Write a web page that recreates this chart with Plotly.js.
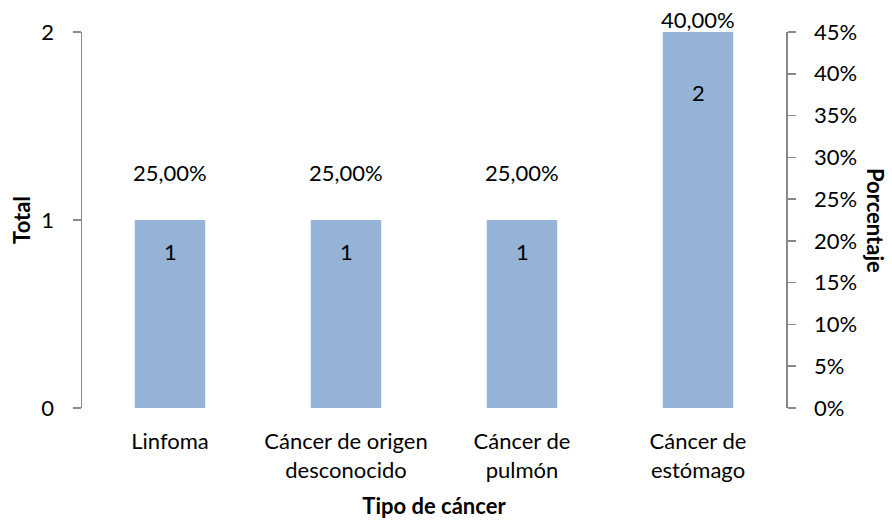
<!DOCTYPE html>
<html>
<head>
<meta charset="utf-8">
<script src="https://cdn.plot.ly/plotly-3.0.1.min.js"></script>
<style>
  html, body { margin: 0; padding: 0; background: #fff; }
  #chart { width: 892px; height: 522px; }
</style>
</head>
<body>
<div id="chart"></div>
<script>
// Casos por tipo de cáncer: total y porcentaje
const categories = ['Linfoma', 'Cáncer de origen<br>desconocido', 'Cáncer de<br>pulmón', 'Cáncer de<br>estómago'];
const totals = [1, 1, 1, 2];
const percentages = [25, 25, 25, 40];

const FONT = 'Lato, Calibri, "Open Sans", sans-serif';
const AXIS_GRAY = '#898989';
const FS = 22;
const FS_TITLE = 22;

// Label offsets (px) relative to the value they annotate
const countShift = [-31, -31, -31, -60];
const pctShift = [27, 27, 27, 54];

const fmtPct = v => v.toFixed(2).replace('.', ',') + '%';

const bars = {
  type: 'bar',
  x: categories,
  y: totals,
  marker: { color: '#95B3D7' },
  hoverinfo: 'x+y',
  showlegend: false
};

// Invisible series on the secondary axis that carries the percentages
const pctTrace = {
  type: 'scatter',
  mode: 'markers',
  x: categories,
  y: percentages,
  yaxis: 'y2',
  marker: { opacity: 0 },
  hoverinfo: 'skip',
  showlegend: false
};

const annotations = [];
categories.forEach((c, i) => {
  annotations.push({
    x: c, y: totals[i], xref: 'x', yref: 'y',
    text: String(totals[i]), showarrow: false, yshift: countShift[i],
    font: { family: FONT, size: FS, color: '#000' }
  });
  annotations.push({
    x: c, y: percentages[i], xref: 'x', yref: 'y2',
    text: fmtPct(percentages[i]), showarrow: false, yshift: pctShift[i],
    font: { family: FONT, size: FS, color: '#000' }
  });
});
annotations.push({
  x: 1, xref: 'paper', xanchor: 'center', xshift: 90,
  y: 0.5, yref: 'paper', yanchor: 'middle',
  text: '<b>Porcentaje</b>', textangle: 90, showarrow: false,
  font: { family: FONT, size: FS_TITLE, color: '#000' }
});

const layout = {
  width: 892,
  height: 522,
  margin: { l: 82, r: 106, t: 32, b: 114 },
  paper_bgcolor: '#fff',
  plot_bgcolor: '#fff',
  font: { family: FONT, size: FS, color: '#000' },
  bargap: 0.6,
  xaxis: {
    type: 'category',
    showline: false,
    showgrid: false,
    zeroline: false,
    ticks: '',
    ticklabelstandoff: 18,
    tickfont: { family: FONT, size: FS, color: '#000' },
    title: { text: '<b>Tipo de cáncer</b>', font: { family: FONT, size: FS_TITLE, color: '#000' }, standoff: 17 }
  },
  yaxis: {
    range: [0, 2],
    dtick: 1,
    showline: true,
    linecolor: AXIS_GRAY,
    linewidth: 1.5,
    ticks: 'outside',
    ticklen: 8,
    tickcolor: AXIS_GRAY,
    tickwidth: 1.5,
    ticklabelstandoff: 14,
    showgrid: false,
    zeroline: false,
    tickfont: { family: FONT, size: FS, color: '#000' },
    title: { text: '<b>Total</b>', font: { family: FONT, size: FS_TITLE, color: '#000' }, standoff: 4 }
  },
  yaxis2: {
    overlaying: 'y',
    side: 'right',
    range: [0, 45],
    dtick: 5,
    ticksuffix: '%',
    showline: true,
    linecolor: AXIS_GRAY,
    linewidth: 1.5,
    ticks: 'outside',
    ticklen: 8,
    tickcolor: AXIS_GRAY,
    tickwidth: 1.5,
    ticklabelstandoff: 14,
    showgrid: false,
    zeroline: false,
    tickfont: { family: FONT, size: FS, color: '#000' }
  },
  annotations: annotations
};

Plotly.newPlot('chart', [bars, pctTrace], layout, { displayModeBar: false, staticPlot: true });
</script>
</body>
</html>
